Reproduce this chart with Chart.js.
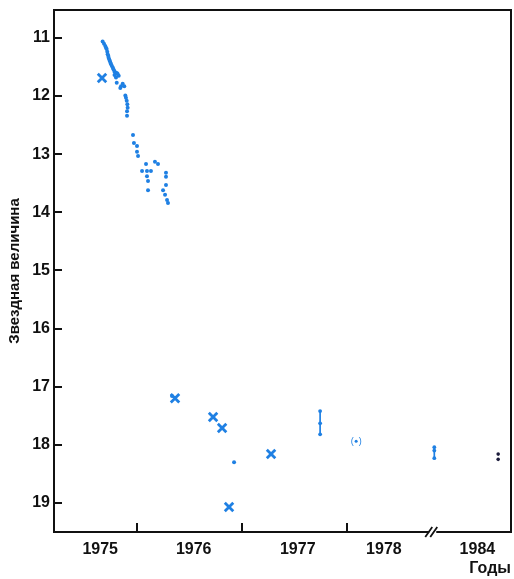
<!DOCTYPE html>
<html><head><meta charset="utf-8">
<script src="https://cdn.jsdelivr.net/npm/chart.js@4/dist/chart.umd.min.js"></script>
<style>html,body{margin:0;padding:0;background:#fff}#wrap{width:514px;height:579px}</style>
</head><body><div id="wrap"><canvas id="c" width="514" height="579"></canvas></div>
<script>
// ---------- data (years as fractional years, magnitudes) ----------
const yearLabels = ['1975', '1976', '1977', '1978', '1984'];
const yearLabelPos = [1975.65, 1976.54, 1977.53, 1978.35, 1979.24];   // axis positions of the year labels
const yearTicks = [1976, 1977, 1978];
const magTicks = [11, 12, 13, 14, 15, 16, 17, 18, 19];
const BREAK_OFFSET = 5.1;          // years 1979–1983 hidden by the axis break
const AXIS_MIN = 1975.21, AXIS_MAX = 1979.56, BREAK_AT = 1978.82;
const MAG_MIN = 10.52, MAG_MAX = 19.5;

// small observation dots
const dotYears = [1975.673,1975.686,1975.698,1975.705,1975.711,1975.717,1975.721,1975.727,1975.730,1975.736,
  1975.743,1975.748,1975.752,1975.760,1975.769,1975.776,1975.784,1975.790,1975.800,1975.810,1975.816,1975.826,
  1975.800,1975.786,1975.807,1975.841,1975.848,1975.864,1975.879,1975.889,1975.895,1975.902,1975.908,1975.911,
  1975.905,1975.905,
  1975.962,1975.971,1976.000,1976.000,1976.010,1976.086,1976.048,1976.095,1976.133,1976.095,1976.105,1976.105,
  1976.171,1976.200,1976.276,1976.276,1976.276,1976.248,1976.267,1976.286,1976.295,
  1976.333,1976.924];
const dotMags = [11.06,11.10,11.14,11.17,11.19,11.24,11.28,11.31,11.34,11.37,
  11.40,11.43,11.45,11.48,11.51,11.54,11.57,11.59,11.60,11.61,11.62,11.65,
  11.68,11.64,11.77,11.86,11.83,11.79,11.83,11.99,12.03,12.08,12.14,12.20,
  12.26,12.34,
  12.67,12.81,12.86,12.96,13.03,13.17,13.29,13.29,13.29,13.38,13.46,13.62,
  13.13,13.17,13.32,13.39,13.53,13.62,13.70,13.79,13.84,
  17.16,18.30];

// crosses
const crossYears = [1975.667, 1976.362, 1976.724, 1976.810, 1976.876, 1977.276];
const crossMags  = [11.69, 17.20, 17.52, 17.71, 19.07, 18.16];

// range marks (null separates marks)
const rangeYears = [1977.743, 1977.743, 1977.743, null, 1978.83, 1978.83, 1978.83];
const rangeMags  = [17.42, 17.63, 17.82, null, 18.04, 18.10, 18.23];

// uncertain (bracketed) point
const bracketYears = [1978.086];
const bracketMags  = [17.94];

// 1984 observations
const lateYears = [1984.538, 1984.538];
const lateMags  = [18.16, 18.25];

// ---------- helpers ----------
const toAxis = yr => (yr === null ? null : (yr >= 1984 ? yr - BREAK_OFFSET : yr));
const pts = (xs, ys) => xs.map((x, i) => ({ x: x === null ? null : toAxis(x), y: ys[i] }));

const BLUE = '#1f80e3';
const FONT = 'Liberation Sans, Arial, sans-serif';

const framePlugin = {
  id: 'frame',
  afterDraw(chart) {
    const { ctx, chartArea: a, scales: { x, y } } = chart;
    ctx.save();
    ctx.strokeStyle = '#111';
    ctx.lineWidth = 2;
    ctx.strokeRect(a.left, a.top, a.right - a.left, a.bottom - a.top);
    ctx.beginPath();
    magTicks.forEach(m => { const py = Math.round(y.getPixelForValue(m)); ctx.moveTo(a.left, py); ctx.lineTo(a.left + 8, py); });
    yearTicks.forEach(t => { const px = Math.round(x.getPixelForValue(t)); ctx.moveTo(px, a.bottom); ctx.lineTo(px, a.bottom - 9); });
    ctx.stroke();
    // axis break
    const bx = x.getPixelForValue(BREAK_AT);
    ctx.fillStyle = '#fff';
    ctx.fillRect(bx - 4, a.bottom - 2, 7, 4);
    ctx.beginPath();
    ctx.lineWidth = 1.8;
    ctx.moveTo(bx - 8, a.bottom + 5); ctx.lineTo(bx - 1, a.bottom - 5);
    ctx.moveTo(bx - 3, a.bottom + 5); ctx.lineTo(bx + 4, a.bottom - 5);
    ctx.stroke();
    // brackets round uncertain point
    const meta = chart.getDatasetMeta(3);
    ctx.fillStyle = BLUE;
    ctx.font = '9px ' + FONT;
    ctx.textAlign = 'center';
    ctx.textBaseline = 'middle';
    meta.data.forEach(p => { ctx.fillText('(', p.x - 4, p.y); ctx.fillText(')', p.x + 4, p.y); });
    ctx.restore();
  }
};

new Chart(document.getElementById('c'), {
  type: 'scatter',
  data: {
    datasets: [
      { data: pts(dotYears, dotMags), pointStyle: 'circle', pointRadius: 2, backgroundColor: BLUE, borderWidth: 0 },
      { data: pts(crossYears, crossMags), pointStyle: 'crossRot', pointRadius: 6, borderColor: BLUE, borderWidth: 2.8 },
      { data: pts(rangeYears, rangeMags), showLine: true, spanGaps: false, borderColor: BLUE, borderWidth: 1.7,
        pointRadius: 1.9, backgroundColor: BLUE, pointBorderWidth: 0 },
      { data: pts(bracketYears, bracketMags), pointRadius: 1.5, backgroundColor: BLUE, borderWidth: 0 },
      { data: pts(lateYears, lateMags), pointRadius: 1.8, backgroundColor: '#1b1b3a', borderWidth: 0 }
    ]
  },
  options: {
    responsive: false,
    animation: false,
    events: [],
    layout: { autoPadding: false, padding: { left: 0, top: 10, right: 3, bottom: 0 } },
    plugins: { legend: { display: false }, tooltip: { enabled: false } },
    scales: {
      x: {
        type: 'linear', min: AXIS_MIN, max: AXIS_MAX,
        grid: { display: false, drawTicks: false },
        border: { display: false },
        afterBuildTicks: s => { s.ticks = yearLabelPos.map(v => ({ value: v })); },
        afterFit: s => { s.height = 47; s.paddingLeft = 0; s.paddingRight = 0; },
        ticks: { autoSkip: false, maxRotation: 0, padding: 8, color: '#111',
          font: { family: FONT, size: 16, weight: 'bold' },
          callback: (v, i) => yearLabels[i] },
        title: { display: true, text: 'Годы', align: 'end', color: '#111',
          font: { family: FONT, size: 16, weight: 'bold' }, padding: { top: 0, bottom: 1 } }
      },
      y: {
        type: 'linear', reverse: true, min: MAG_MIN, max: MAG_MAX,
        grid: { display: false, drawTicks: false },
        border: { display: false },
        afterBuildTicks: s => { s.ticks = magTicks.map(v => ({ value: v })); },
        afterFit: s => { s.width = 54; s.paddingTop = 0; s.paddingBottom = 0; },
        ticks: { padding: 4, color: '#111', font: { family: FONT, size: 16, weight: 'bold' } },
        title: { display: true, text: 'Звездная величина', color: '#111',
          font: { family: FONT, size: 15, weight: 'bold' }, padding: { top: 6, bottom: 0 } }
      }
    }
  },
  plugins: [framePlugin]
});
</script>
</body></html>
